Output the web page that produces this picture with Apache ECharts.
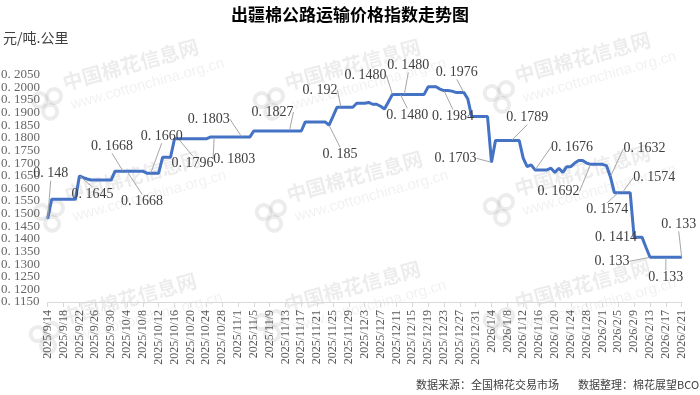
<!DOCTYPE html>
<html><head><meta charset="utf-8">
<script src="https://cdn.jsdelivr.net/npm/echarts@6/dist/echarts.min.js"></script>
<style>html,body{margin:0;padding:0;background:#fff}#c{width:700px;height:395px}</style>
</head><body><div id="c"></div>
<script>
// ---- data ----
const titleText = '出疆棉公路运输价格指数走势图';
const unitText = '元/吨.公里';
const sourceText = '数据来源：全国棉花交易市场';
const editorText = '数据整理：棉花展望BCO';

// daily categories 2025/9/14 .. 2026/2/21
const firstDay = [2025, 9, 14];
const dayCount = 161;
const categories = [];
for (let k = 0; k < dayCount; k++) {
  const d = new Date(firstDay[0], firstDay[1] - 1, firstDay[2] + k);
  categories.push(d.getFullYear() + '/' + (d.getMonth() + 1) + '/' + d.getDate());
}

const values = [
  0.1480,
  0.1557, 0.1557, 0.1557, 0.1557, 0.1557, 0.1557, 0.1557,
  0.1649, 0.1642, 0.1637,
  0.1633, 0.1633, 0.1633, 0.1633, 0.1633, 0.1633,
  0.1668, 0.1668, 0.1668, 0.1668, 0.1668, 0.1668, 0.1668, 0.1668,
  0.1660, 0.1660, 0.1660, 0.1660,
  0.1723, 0.1723, 0.1723,
  0.1796, 0.1796, 0.1796, 0.1796, 0.1796, 0.1796, 0.1796, 0.1796, 0.1796,
  0.1803, 0.1803, 0.1803, 0.1803, 0.1803, 0.1803, 0.1803, 0.1803, 0.1803, 0.1803, 0.1803,
  0.1827, 0.1827, 0.1827, 0.1827, 0.1827, 0.1827, 0.1827, 0.1827, 0.1827, 0.1827, 0.1827, 0.1827, 0.1827,
  0.1863, 0.1863, 0.1863, 0.1863, 0.1863, 0.1863,
  0.1850, 0.1885,
  0.1921, 0.1921, 0.1921, 0.1921, 0.1921,
  0.1937, 0.1937, 0.1937, 0.1940, 0.1933, 0.1933, 0.1925, 0.1914, 0.1943,
  0.1972, 0.1972, 0.1972, 0.1972, 0.1972, 0.1972, 0.1972, 0.1972, 0.1972,
  0.2002, 0.2002, 0.2002, 0.1993, 0.1987, 0.1987, 0.1985,
  0.1980, 0.1980, 0.1980, 0.1955,
  0.1884, 0.1884, 0.1884, 0.1884, 0.1884,
  0.1703,
  0.1789, 0.1789, 0.1789, 0.1789, 0.1789, 0.1789, 0.1789,
  0.1720, 0.1686, 0.1693,
  0.1673, 0.1673, 0.1673, 0.1673,
  0.1680, 0.1663, 0.1680, 0.1663,
  0.1686, 0.1686, 0.1700, 0.1710, 0.1710, 0.1700,
  0.1695, 0.1695, 0.1695, 0.1695, 0.1690, 0.1646,
  0.1583, 0.1583, 0.1583, 0.1583, 0.1583,
  0.1406, 0.1406, 0.1406, 0.1366,
  0.1327, 0.1327, 0.1327, 0.1327, 0.1327, 0.1327, 0.1327, 0.1327, 0.1327
];

const yMin = 0.115, yMax = 0.205, yStep = 0.005;
// y tick label values
const yTickValues = [0.115, 0.120, 0.125, 0.130, 0.135, 0.140, 0.145, 0.150, 0.155, 0.160,
  0.165, 0.170, 0.175, 0.180, 0.185, 0.190, 0.195, 0.200, 0.205];

// data label texts (index, text) as shown on the chart
const labelTexts = [
  [0, '0.148'], [8, '0.1645'], [19, '0.1668'], [20, '0.1668'], [26, '0.1660'],
  [33, '0.1796'], [42, '0.1803'], [49, '0.1803'], [61, '0.1827'], [74, '0.192'],
  [71, '0.185'], [87, '0.1480'], [90, '0.1480'], [89, '0.1480'], [105, '0.1976'],
  [100, '0.1984'], [112, '0.1703'], [117, '0.1789'], [123, '0.1676'], [137, '0.1692'],
  [142, '0.1632'], [145, '0.1574'], [144, '0.1574'], [149, '0.1414'], [152, '0.133'],
  [156, '0.133'], [160, '0.133']
];

// ---- layout (label offsets from the point, px) ----
const labelOffsets = {
  0: [3, -45], 8: [13, 18], 19: [-11, -25], 20: [15, 30], 26: [11, -37],
  33: [14, 24], 42: [20, 22], 49: [-33, -18], 61: [-17, -19], 74: [-21, -17],
  71: [11, 29], 87: [-27, -19], 90: [4, -29], 89: [7, 21], 105: [-7, -20],
  100: [9, 26], 112: [-36, -4], 117: [16, -23], 123: [37, -23], 137: [-32, 27],
  142: [34, -28], 145: [32, -15], 144: [-11, 17], 149: [-22, 0], 152: [-38, 4],
  156: [0, 20], 160: [-3, -33]
};

const spaced = s => s.replace('.', '. ');
const labelMap = {};
labelTexts.forEach(([i, t]) => { labelMap[i] = t; });
const seriesData = values.map((v, i) => labelMap[i] !== undefined
  ? { value: v, label: { show: true, formatter: spaced(labelMap[i]) } }
  : v);

// watermark
const wmC = 'rgba(0,0,0,0.075)';
const wmC2 = 'rgba(0,0,0,0.06)';
function wm(x, y) {
  return {
    type: 'group', x: x, y: y, rotation: 0.27, silent: true, z: 0,
    children: [
      { type: 'circle', shape: { cx: -7, cy: -6, r: 7 }, style: { fill: 'none', stroke: wmC, lineWidth: 4 } },
      { type: 'circle', shape: { cx: 8, cy: -6, r: 7 }, style: { fill: 'none', stroke: wmC, lineWidth: 4 } },
      { type: 'circle', shape: { cx: 0, cy: 8, r: 7 }, style: { fill: 'none', stroke: wmC, lineWidth: 4 } },
      { type: 'text', x: 20, y: -26, style: { text: '中国棉花信息网', font: 'bold 20px "Noto Sans CJK SC"', fill: wmC } },
      { type: 'text', x: 22, y: 0, style: { text: 'www.cottonchina.org.cn', font: '15px "Liberation Sans"', fill: wmC2 } }
    ]
  };
}
const wmPos = [[48, 104], [270, 104], [500, 97], [50, 216], [272, 216], [500, 210], [46, 338], [270, 326], [500, 324]];

const chart = echarts.init(document.getElementById('c'), null, { renderer: 'canvas' });
chart.setOption({
  animation: false,
  backgroundColor: '#ffffff',
  title: {
    text: titleText, left: 'center', top: 1,
    textStyle: { fontFamily: '"Noto Sans CJK SC"', fontSize: 17, fontWeight: 'bold', color: '#000' }
  },
  graphic: wmPos.map(p => wm(p[0], p[1])).concat([
    { type: 'text', left: 3, top: 31, z: 5, style: { text: unitText, font: '14px "Noto Sans CJK SC"', fill: '#404040' } },
    { type: 'text', left: 416, top: 379, z: 5, style: { text: sourceText, font: '11px "Noto Sans CJK SC"', fill: '#404040' } },
    { type: 'text', left: 578, top: 379, z: 5, style: { text: editorText, font: '11px "Noto Sans CJK SC"', fill: '#404040' } }
  ]),
  grid: { left: 47.7, right: 18.3, top: 74.7, bottom: 93, containLabel: false },
  xAxis: {
    type: 'category', data: categories, boundaryGap: false,
    axisLine: { show: true, lineStyle: { color: '#d9d9d9', width: 1 } },
    axisTick: { show: true, interval: 3, length: 5, lineStyle: { color: '#d9d9d9' } },
    axisLabel: { interval: 3, rotate: 90, margin: 8, fontFamily: '"Liberation Serif"', fontSize: 12, color: '#595959' },
    splitLine: { show: false }
  },
  yAxis: {
    type: 'value', min: yMin, max: yMax, interval: yStep,
    axisLine: { show: false }, axisTick: { show: false }, splitLine: { show: false },
    axisLabel: { show: false }
  },
  series: [{
    type: 'line', data: seriesData,
    symbol: 'circle', symbolSize: 1, showSymbol: true, showAllSymbol: true,
    itemStyle: { color: '#4472C4' },
    lineStyle: { color: '#4472C4', width: 3 },
    label: { show: false, fontFamily: '"Liberation Serif"', fontSize: 14, color: '#404040', position: 'inside' },
    labelLine: { show: true, lineStyle: { color: '#a6a6a6', width: 1 } },
    labelLayout: function (p) {
      const o = labelOffsets[p.dataIndex];
      if (!o) return {};
      const cx = p.rect.x + p.rect.width / 2, cy = p.rect.y + p.rect.height / 2;
      return { x: cx + o[0], y: cy + o[1], align: 'center', verticalAlign: 'middle' };
    },
    emphasis: { disabled: true }, z: 3
  }, {
    // y-axis tick labels, placed on the value scale
    type: 'scatter', silent: true, z: 4,
    data: yTickValues.map(v => [0, v]),
    symbol: 'circle', symbolSize: 1, itemStyle: { color: 'rgba(0,0,0,0)' },
    label: {
      show: true, position: 'inside', fontFamily: '"Liberation Serif"', fontSize: 13, color: '#404040',
      formatter: p => spaced(p.value[1].toFixed(4))
    },
    labelLayout: function () { return { x: 1, align: 'left', verticalAlign: 'middle' }; },
    emphasis: { disabled: true }, clip: false
  }]
});
</script></body></html>
